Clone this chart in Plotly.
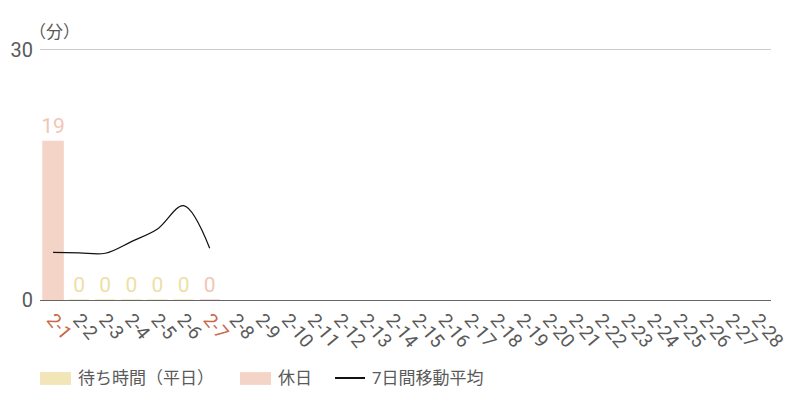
import plotly.graph_objects as go

categories = [f"2-{d}" for d in range(1, 29)]
holidays = ["2-1", "2-7"]
weekday_dates = ["2-2", "2-3", "2-4", "2-5", "2-6"]
weekday_values = [0, 0, 0, 0, 0]
holiday_values = [19, 0]
ma_dates = ["2-1", "2-2", "2-3", "2-4", "2-5", "2-6", "2-7"]
ma_values = [5.7, 5.65, 5.6, 7.0, 8.5, 11.3, 6.2]
y_ticks = [0, 30]
legend_labels = ["待ち時間（平日）", "休日", "7日間移動平均"]

WEEKDAY_COLOR = "#f2e6b8"
HOLIDAY_COLOR = "#f5d4c8"
HOLIDAY_TICK = "#c8684c"
LINE_COLOR = "#111111"
GRAY = "#5a5a5a"
FONT = "Roboto, Noto Sans CJK JP, sans-serif"
NARROW = "Liberation Sans Narrow, Roboto, sans-serif"

fig = go.Figure()
fig.add_trace(go.Bar(
    x=weekday_dates, y=weekday_values, name=legend_labels[0],
    marker=dict(color=WEEKDAY_COLOR, line=dict(color=WEEKDAY_COLOR, width=1.5)),
    text=weekday_values, textposition="outside", constraintext="none",
    textfont=dict(color="#ede0a6", size=21, family=NARROW), cliponaxis=False,
))
fig.add_trace(go.Bar(
    x=holidays, y=holiday_values, name=legend_labels[1],
    marker=dict(color=HOLIDAY_COLOR, line=dict(color=HOLIDAY_COLOR, width=1.5)),
    text=holiday_values, textposition="outside", constraintext="none",
    textfont=dict(color="#f2c6b4", size=21, family=NARROW), cliponaxis=False,
))
fig.add_trace(go.Scatter(
    x=ma_dates, y=ma_values, name=legend_labels[2], mode="lines",
    line=dict(color=LINE_COLOR, width=1.2, shape="spline"),
))

ticktext = [f'<span style="color:{HOLIDAY_TICK}">{c}</span>' if c in holidays else c for c in categories]

# legend drawn as paper-positioned shapes + text (wide swatches like the original)
ly = -0.3095
shapes = [
    dict(type="rect", xref="paper", yref="paper", x0=0.0, x1=0.0424, y0=-0.337, y1=-0.286,
         fillcolor=WEEKDAY_COLOR, line=dict(width=0)),
    dict(type="rect", xref="paper", yref="paper", x0=0.2736, x1=0.3160, y0=-0.337, y1=-0.286,
         fillcolor=HOLIDAY_COLOR, line=dict(width=0)),
    dict(type="line", xref="paper", yref="paper", x0=0.4036, x1=0.4446, y0=ly, y1=ly,
         line=dict(color=LINE_COLOR, width=2)),
]
legend_x = [0.0492, 0.3228, 0.4514]
annotations = [
    dict(text=t, xref="paper", yref="paper", x=x, y=ly, xanchor="left", yanchor="middle",
         showarrow=False, font=dict(size=17, color=GRAY, family=FONT))
    for t, x in zip(legend_labels, legend_x)
]
annotations.append(dict(
    text="（分）", xref="paper", yref="paper", x=0, y=1.0, yshift=4,
    xanchor="left", yanchor="bottom", showarrow=False, xshift=-13,
    font=dict(size=17, color=GRAY, family=FONT),
))

fig.update_layout(
    width=800, height=400,
    margin=dict(l=40, r=29, t=48, b=100),
    plot_bgcolor="white", paper_bgcolor="white",
    barmode="overlay", bargap=0.23,
    font=dict(family=FONT, color=GRAY),
    showlegend=False,
    xaxis=dict(
        type="category", categoryorder="array", categoryarray=categories,
        tickmode="array", tickvals=categories, ticktext=ticktext,
        tickangle=50, tickfont=dict(size=19, color=GRAY, family=FONT),
        showline=True, linecolor="#666666", linewidth=1,
        showgrid=False, ticks="", range=[-0.5, 27.5], automargin=False,
    ),
    yaxis=dict(
        range=[0, 30.2], tickvals=y_ticks, tickfont=dict(size=20, color=GRAY, family=FONT),
        showgrid=True, gridcolor="#cccccc", zeroline=False, ticks="",
        showline=False, automargin=False, ticklabelstandoff=6,
    ),
    shapes=shapes,
    annotations=annotations,
)

fig.write_html("out.html", config={"displayModeBar": False},
               post_script="document.body.style.margin='0';")
